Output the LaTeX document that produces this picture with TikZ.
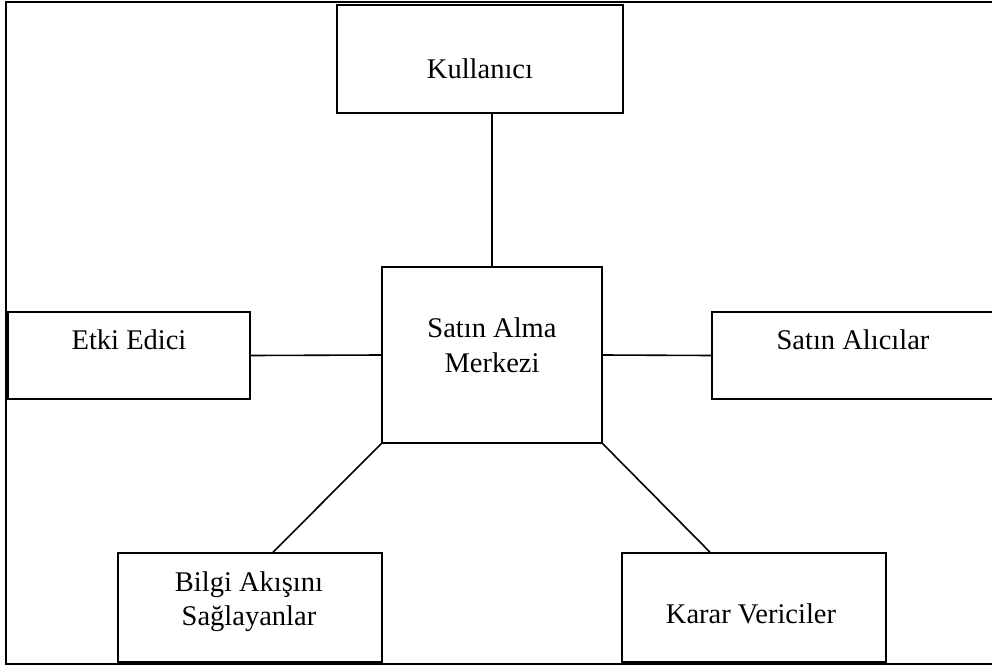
\documentclass[tikz,border=0pt]{standalone}
\usepackage{fontspec}
\setmainfont{Liberation Serif}
\usetikzlibrary{calc, positioning}

\begin{document}
\begin{tikzpicture}[x=1pt, y=-1pt,
        kutu/.style={draw=black, line width=1.6pt, rectangle, inner sep=0pt},
        bag/.style={line width=1.6pt},
        yazi/.style={inner sep=0pt, align=center, font=\fontsize{28.5}{34.5}\selectfont}]
        \clip (0,0) rectangle (992,666);
        \draw[line width=2pt] (6,2) rectangle (1010,664);
        % kutular
        \node[kutu, minimum width=286pt, minimum height=108pt] (kul) at (480,59) {};
        \node[kutu, minimum width=220pt, minimum height=176pt] (mer) at (492,355) {};
        \node[kutu, minimum width=242pt, minimum height=87pt] (etki) at (129,355.5) {};
        \node[kutu, minimum width=284pt, minimum height=87pt] (alici) at (854,355.5) {};
        \node[kutu, minimum width=264pt, minimum height=109pt] (bilgi) at (250,607.5) {};
        \node[kutu, minimum width=264pt, minimum height=109pt] (karar) at (754,607.5) {};
        % yazilar
        \node[yazi, anchor=base] (tkul) at (480,79) {Kullanıcı};
        \node[yazi] (tmer) at (492,345) {Satın Alma\\Merkezi};
        \node[yazi, anchor=base] (tetki) at (129,349) {Etki Edici};
        \node[yazi, anchor=base] (talici) at (853,349) {Satın Alıcılar};
        \node[yazi] (tbilgi) at (249,601.5) {Bilgi Akışını\\Sağlayanlar};
        \node[yazi, anchor=base] (tkarar) at (751,623) {Karar Vericiler};
        % baglantilar
        \draw[bag] (mer.north) -- (mer.north |- kul.south);
        \draw[bag] (etki.east) -- (mer.west);
        \draw[bag] (mer.east) -- (alici.west);
        \draw[bag] (mer.south west) -- ([xshift=23pt]bilgi.north);
        \draw[bag] (mer.south east) -- ([xshift=-44pt]karar.north);
    \end{tikzpicture}
\end{document}
